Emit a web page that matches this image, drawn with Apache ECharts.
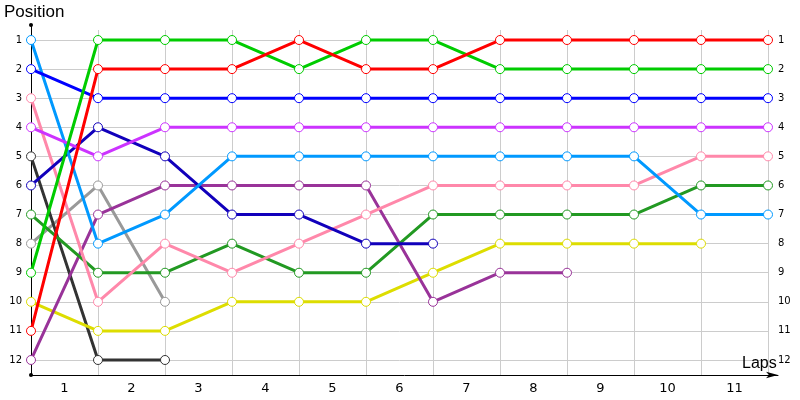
<!DOCTYPE html>
<html>
<head>
<meta charset="utf-8">
<script src="https://cdn.jsdelivr.net/npm/echarts@6/dist/echarts.min.js"></script>
<style>html,body{margin:0;padding:0;background:#fff}#c{width:800px;height:400px}</style>
</head>
<body>
<div id="c"></div>
<script>
// x index 0 = start grid, 1..11 = after each lap
const lapLabels = ['1','2','3','4','5','6','7','8','9','10','11'];
const positionTicks = [1,2,3,4,5,6,7,8,9,10,11,12];

const redPos       = [11, 2, 2, 2, 1, 2, 2, 1, 1, 1, 1, 1];
const greenPos     = [9, 1, 1, 1, 2, 1, 1, 2, 2, 2, 2, 2];
const bluePos      = [2, 3, 3, 3, 3, 3, 3, 3, 3, 3, 3, 3];
const violetPos    = [4, 5, 4, 4, 4, 4, 4, 4, 4, 4, 4, 4];
const skyPos       = [1, 8, 7, 5, 5, 5, 5, 5, 5, 5, 7, 7];
const pinkPos      = [3, 10, 8, 9, 8, 7, 6, 6, 6, 6, 5, 5];
const darkGreenPos = [7, 9, 9, 8, 9, 9, 7, 7, 7, 7, 6, 6];
const darkBluePos  = [6, 4, 5, 7, 7, 8, 8];
const purplePos    = [12, 7, 6, 6, 6, 6, 10, 9, 9];
const yellowPos    = [10, 11, 11, 10, 10, 10, 9, 8, 8, 8, 8];
const grayPos      = [8, 6, 10];
const blackPos     = [5, 12, 12];

const seriesDefs = [
  {name: 'Gray', color: '#999999', pos: grayPos},
  {name: 'Black', color: '#333333', pos: blackPos},
  {name: 'Yellow', color: '#dddd00', pos: yellowPos},
  {name: 'Purple', color: '#993399', pos: purplePos},
  {name: 'Dark green', color: '#229922', pos: darkGreenPos},
  {name: 'Pink', color: '#ff88aa', pos: pinkPos},
  {name: 'Dark blue', color: '#1100bb', pos: darkBluePos},
  {name: 'Sky blue', color: '#0099ff', pos: skyPos},
  {name: 'Violet', color: '#cc33ff', pos: violetPos},
  {name: 'Blue', color: '#0000ff', pos: bluePos},
  {name: 'Green', color: '#00cc00', pos: greenPos},
  {name: 'Red', color: '#ff0000', pos: redPos}
];

const FONT = 'DejaVu Sans';
const TITLE_FONT = 'Liberation Sans';
const chart = echarts.init(document.getElementById('c'), null, {renderer: 'canvas'});

const series = seriesDefs.map(d => ({
  name: d.name,
  type: 'line',
  xAxisIndex: 0,
  yAxisIndex: 0,
  data: d.pos.map((p, i) => [i, p]),
  symbol: 'circle',
  symbolSize: 9,
  showAllSymbol: true,
  animation: false,
  color: d.color,
  lineStyle: {width: 3, color: d.color},
  itemStyle: {color: '#ffffff', borderWidth: 1, borderColor: d.color},
  emphasis: {disabled: true}
}));

const option = {
  backgroundColor: '#ffffff',
  animation: false,
  textStyle: {fontFamily: FONT},
  title: [
    {text: 'Position', left: 4, top: 4, padding: 0, textStyle: {fontFamily: TITLE_FONT, fontSize: 17, fontWeight: 'normal', color: '#000'}},
    {text: 'Laps', left: 742, top: 356, padding: 0, textStyle: {fontFamily: TITLE_FONT, fontSize: 16, fontWeight: 'normal', color: '#000'}}
  ],
  grid: [
    {left: 31, right: 32, top: 30, bottom: 25, containLabel: false},
    {left: 31, right: 22, top: 25, bottom: 25, containLabel: false}
  ],
  xAxis: [
    {
      gridIndex: 0, type: 'value', min: 0, max: 11, interval: 1, position: 'bottom',
      axisLine: {show: false}, axisTick: {show: false}, axisLabel: {show: false},
      splitLine: {show: true, lineStyle: {color: '#cccccc', width: 1}}
    },
    {
      gridIndex: 0, type: 'category', data: lapLabels, boundaryGap: true, position: 'bottom',
      axisLine: {show: false}, axisTick: {show: false},
      axisLabel: {show: true, color: '#000', fontSize: 13, margin: 7, fontFamily: FONT},
      splitLine: {show: false}
    },
    {
      gridIndex: 1, type: 'value', min: 0, max: 1, position: 'bottom',
      axisLine: {show: true, lineStyle: {color: '#000', width: 1}, symbol: ['none', 'arrow'], symbolSize: [5, 12], symbolOffset: [0, 0]},
      axisTick: {show: false}, axisLabel: {show: false}, splitLine: {show: false}
    }
  ],
  yAxis: [
    {
      gridIndex: 0, type: 'value', inverse: true, min: 0.656, max: 12.516, position: 'left',
      axisLine: {show: false},
      axisTick: {show: false, customValues: positionTicks},
      axisLabel: {show: true, customValues: positionTicks, color: '#000', fontSize: 10, margin: 9, fontFamily: FONT},
      splitLine: {show: true, lineStyle: {color: '#cccccc', width: 1}}
    },
    {
      gridIndex: 0, type: 'value', inverse: true, min: 0.656, max: 12.516, position: 'right',
      axisLine: {show: false},
      axisTick: {show: false, customValues: positionTicks},
      axisLabel: {show: true, customValues: positionTicks, color: '#000', fontSize: 10, margin: 10, fontFamily: FONT},
      splitLine: {show: false}
    },
    {
      gridIndex: 1, type: 'value', min: 0, max: 1, position: 'left',
      axisLine: {show: true, onZero: false, lineStyle: {color: '#000', width: 1}, symbol: ['circle', 'circle'], symbolSize: [4, 4]},
      axisTick: {show: false}, axisLabel: {show: false}, splitLine: {show: false}
    }
  ],
  series: series
};
chart.setOption(option);
</script>
</body>
</html>
